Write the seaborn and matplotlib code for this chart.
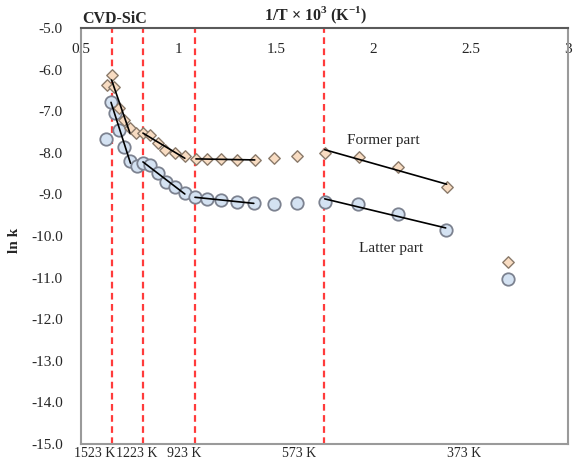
import numpy as np
import pandas as pd
import matplotlib
matplotlib.use("Agg")
import matplotlib.pyplot as plt
import matplotlib.transforms as mtransforms
import seaborn as sns

# ---- data ----
former_x = [0.635, 0.657, 0.669, 0.696, 0.721, 0.751, 0.782, 0.818, 0.854, 0.895,
            0.931, 0.982, 1.033, 1.090, 1.146, 1.218, 1.300, 1.392, 1.490, 1.608,
            1.751, 1.926, 2.126, 2.377, 2.690]
former_y = [-6.37, -6.13, -6.42, -6.92, -7.21, -7.40, -7.52, -7.52, -7.57, -7.76,
            -7.93, -8.00, -8.08, -8.15, -8.15, -8.15, -8.17, -8.17, -8.13, -8.08,
            -8.00, -8.10, -8.34, -8.82, -10.63]

latter_x = [0.628, 0.654, 0.674, 0.697, 0.723, 0.754, 0.787, 0.818, 0.854, 0.895,
            0.938, 0.982, 1.033, 1.085, 1.146, 1.218, 1.300, 1.387, 1.490, 1.608,
            1.751, 1.921, 2.126, 2.372, 2.690]
latter_y = [-7.67, -6.78, -7.04, -7.45, -7.86, -8.20, -8.32, -8.25, -8.29, -8.49,
            -8.69, -8.82, -8.97, -9.06, -9.11, -9.13, -9.18, -9.21, -9.23, -9.21,
            -9.18, -9.23, -9.47, -9.86, -11.03]

# fit segments (ranges of 1/T x 10^3)
segments = [(0.65, 0.77), (0.81, 1.04), (1.08, 1.40), (1.74, 2.40)]

# reference temperatures (K)
temp_labels = ["1523 K", "1223 K", "923 K", "573 K", "373 K"]
temp_label_x = [0.572, 0.787, 1.028, 1.618, 2.469]
line_temps = [1523, 1223, 923, 573]

x_ticks = [0.5, 1.0, 1.5, 2.0, 2.5, 3.0]
x_ticklabels = ["0.5", "1", "1.5", "2", "2.5", "3"]
y_ticks = np.arange(-15, -4, 1)

# ---- style ----
sns.set_style("white")
plt.rcParams["font.family"] = ["Liberation Serif", "DejaVu Serif"]
plt.rcParams["mathtext.fontset"] = "custom"
plt.rcParams["mathtext.rm"] = "Liberation Serif"
plt.rcParams["mathtext.bf"] = "Liberation Serif:bold"

fig = plt.figure(figsize=(5.73, 4.61), dpi=100)
ax = fig.add_axes([81 / 573, 1 - 444 / 461, (568 - 81) / 573, (444 - 28) / 461])

df_f = pd.DataFrame({"x": former_x, "y": former_y})
df_l = pd.DataFrame({"x": latter_x, "y": latter_y})

# dashed reference lines
for T in line_temps:
    ax.axvline(1000.0 / T, color="#ff3b3b", lw=1.6, ls=(0, (3, 2)), zorder=1)

# fit lines
for df in (df_f, df_l):
    for lo, hi in segments:
        sub = df[(df.x >= lo) & (df.x <= hi)]
        k, b = np.polyfit(sub.x, sub.y, 1)
        xs = np.array([sub.x.min(), sub.x.max()])
        ax.plot(xs, k * xs + b, color="black", lw=1.2, zorder=4)

sns.scatterplot(data=df_l, x="x", y="y", ax=ax, marker="o", s=80,
                color="#d4e2f2", edgecolor="#7c8290", linewidth=1.3, zorder=3)
sns.scatterplot(data=df_f, x="x", y="y", ax=ax, marker="D", s=34,
                color="#f8dcc2", edgecolor="#8a7a6a", linewidth=1.0, zorder=3)

ax.set_xlim(0.5, 3.0)
ax.set_ylim(-15, -5)
ax.xaxis.tick_top()
ax.set_xticks(x_ticks)
ax.set_xticklabels(x_ticklabels)
ax.set_yticks(y_ticks)
ax.set_yticklabels([f"{v:.1f}" for v in y_ticks])
ax.tick_params(axis="x", length=0, pad=-20, labelsize=11)
ax.tick_params(axis="y", length=0, pad=13, labelsize=11)
ax.set_xlabel("")
ax.set_ylabel("")

for side in ["left", "right", "bottom"]:
    ax.spines[side].set_color("#9a9a9a")
    ax.spines[side].set_linewidth(1.5)
ax.spines["top"].set_color("#5a5a5a")
ax.spines["top"].set_linewidth(1.5)

# annotations
ax.text(2.05, -7.7, "Former part", fontsize=11, ha="center", va="center")
ax.text(2.09, -10.3, "Latter part", fontsize=11, ha="center", va="center")

trans = mtransforms.blended_transform_factory(ax.transData, ax.transAxes)
for lx, lab in zip(temp_label_x, temp_labels):
    ax.text(lx, -0.008, lab, transform=trans, ha="center", va="top", fontsize=10)

fig.text(14 / 573, 1 - 240 / 461, "ln k", fontsize=11, fontweight="bold",
         rotation=90, ha="center", va="center")
fig.text(82 / 573, 1 - 19 / 461, "CVD-SiC", fontsize=11.5, fontweight="bold",
         ha="left", va="center")
fig.text(316 / 573, 1 - 15 / 461,
         r"1/T × 10$^{\mathbf{3}}$ (K$^{\mathbf{-1}}$)",
         fontsize=11.5, fontweight="bold", ha="center", va="center")

fig.savefig("out.png", dpi=100)
